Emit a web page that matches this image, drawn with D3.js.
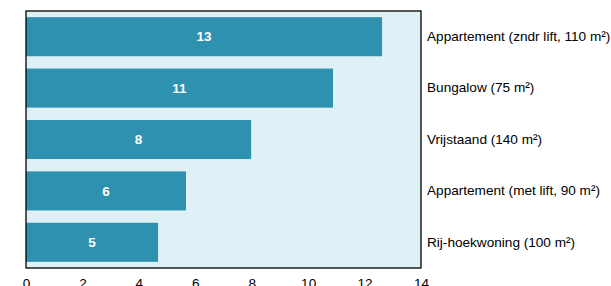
<!DOCTYPE html>
<html>
<head>
<meta charset="utf-8">
<script src="https://cdn.jsdelivr.net/npm/d3@7"></script>
<style>
  body { margin: 0; background: #fff; }
  svg { display: block; font-family: "Liberation Sans", Arial, sans-serif; }
</style>
</head>
<body>
<svg id="chart" width="611" height="286"></svg>
<script>
// woningtypes, van boven naar beneden
const categories = [
  "Appartement (zndr lift, 110 m²)",
  "Bungalow (75 m²)",
  "Vrijstaand (140 m²)",
  "Appartement (met lift, 90 m²)",
  "Rij-hoekwoning (100 m²)"
];
const values = [12.62, 10.88, 7.98, 5.67, 4.68];
const xTicks = [0, 2, 4, 6, 8, 10, 12, 14];

const svg = d3.select('#chart');
const margin = { top: 11, right: 190, bottom: 18, left: 26 };
const width = +svg.attr('width');
const height = +svg.attr('height');
const innerWidth = width - margin.left - margin.right;
const innerHeight = height - margin.top - margin.bottom;

const xScale = d3.scaleLinear().domain([0, 14]).range([0, innerWidth]);
const yScale = d3.scaleBand()
    .domain(categories)
    .range([0, innerHeight])
    .paddingInner(0.24)
    .paddingOuter(0.12);

const g = svg.append('g')
    .attr('transform', `translate(${margin.left},${margin.top})`);

// achtergrond
g.append('rect')
    .attr('width', innerWidth)
    .attr('height', innerHeight)
    .attr('fill', '#dff0f6');

g.selectAll('rect.bar')
    .data(values)
    .enter()
    .append('rect')
    .attr('class', 'bar')
    .attr('x', 0)
    .attr('y', (d, i) => yScale(categories[i]))
    .attr('width', d => xScale(d))
    .attr('height', yScale.bandwidth())
    .attr('fill', '#2e91b0');

g.selectAll('text.val')
    .data(values)
    .enter()
    .append('text')
    .attr('class', 'val')
    .attr('x', d => xScale(d) / 2)
    .attr('y', (d, i) => yScale(categories[i]) + yScale.bandwidth() / 2)
    .attr('dy', '0.35em')
    .attr('text-anchor', 'middle')
    .attr('fill', '#fff')
    .style('font-weight', 'bold')
    .style('font-size', '13.5px')
    .text(d => Math.round(d));

// rand
g.append('rect')
    .attr('width', innerWidth)
    .attr('height', innerHeight)
    .attr('fill', 'none')
    .attr('stroke', '#000')
    .attr('stroke-width', 1.3);

// categorie labels rechts
g.append('g')
    .attr('transform', `translate(${innerWidth},0)`)
    .call(d3.axisRight(yScale).tickSize(0).tickPadding(6))
    .call(a => a.select('.domain').remove())
    .selectAll('text')
    .style('font-size', '13.6px')
    .style('font-family', '"Liberation Sans", Arial, sans-serif')
    .attr('fill', '#000');

// x-as
g.append('g')
    .attr('transform', `translate(0,${innerHeight})`)
    .call(d3.axisBottom(xScale).tickValues(xTicks).tickSize(0).tickPadding(10))
    .call(a => a.select('.domain').remove())
    .selectAll('text')
    .style('font-size', '13.6px')
    .style('font-family', '"Liberation Sans", Arial, sans-serif')
    .attr('fill', '#000');
</script>
</body>
</html>
